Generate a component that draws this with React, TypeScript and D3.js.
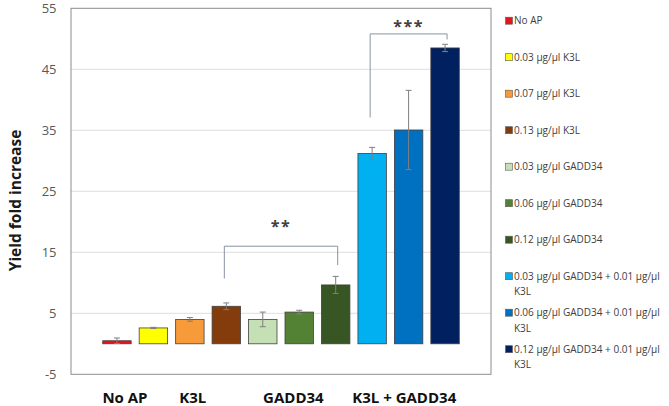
import React, { useEffect, useRef } from "react";
import * as d3 from "d3";

// bar data, left to right
const categories = [
  "No AP",
  "0.03 µg/µl K3L",
  "0.07 µg/µl K3L",
  "0.13 µg/µl K3L",
  "0.03 µg/µl GADD34",
  "0.06 µg/µl GADD34",
  "0.12 µg/µl GADD34",
  "0.03 µg/µl GADD34 + 0.01 µg/µl K3L",
  "0.06 µg/µl GADD34 + 0.01 µg/µl K3L",
  "0.12 µg/µl GADD34 + 0.01 µg/µl K3L",
];
const values = [0.5, 2.6, 4.0, 6.15, 4.0, 5.2, 9.65, 31.2, 35.05, 48.5];
const errors = [0.45, 0.1, 0.3, 0.55, 1.2, 0.3, 1.4, 1.0, 6.5, 0.6];
const colors = [
  "#E8141B",
  "#FFFF00",
  "#F79A3A",
  "#843C0C",
  "#C5E0B4",
  "#548235",
  "#375623",
  "#00B0F0",
  "#0070C0",
  "#002060",
];

// group labels under the axis, at a (fractional) bar index
const groupLabels = ["No AP", "K3L", "GADD34", "K3L + GADD34"];
const groupLabelIndex = [0.22, 2.08, 4.84, 7.88];

const yTicks = [-5, 5, 15, 25, 35, 45, 55];

// significance brackets: bar indices + heights in data units
const sigFrom = [3, 7];
const sigTo = [6, 9];
const sigTop = [16.0, 50.8];
const sigLeftEnd = [10.7, 37.1];
const sigRightEnd = [12.9, 49.9];
const sigLabelAt = [19.85, 52.7];
const sigLabels = ["**", "***"];

const W = 669;
const H = 406;
const FONT = "'Open Sans', sans-serif";

const App: React.FC = () => {
  const svgRef = useRef<SVGSVGElement | null>(null);

  useEffect(() => {
    const svg = d3.select(svgRef.current);
    svg.selectAll("*").remove();

    const plot = { left: 71, right: 491, top: 8.3, bottom: 374.3 };

    const x = d3
      .scaleBand<number>()
      .domain(d3.range(values.length))
      .range([plot.left, plot.right])
      .paddingInner(0.22)
      .paddingOuter(0.87);

    const y = d3.scaleLinear().domain([-5, 55]).range([plot.bottom, plot.top]);

    const cx = (i: number) => x(i)! + x.bandwidth() / 2;

    // gridlines
    svg
      .append("g")
      .selectAll("line")
      .data(yTicks.filter((t) => t > -5 && t < 55))
      .enter()
      .append("line")
      .attr("x1", plot.left)
      .attr("x2", plot.right)
      .attr("y1", (d) => y(d))
      .attr("y2", (d) => y(d))
      .attr("stroke", "#dedede")
      .attr("stroke-width", 1);

    // plot border
    svg
      .append("rect")
      .attr("x", plot.left)
      .attr("y", plot.top)
      .attr("width", plot.right - plot.left)
      .attr("height", plot.bottom - plot.top)
      .attr("fill", "none")
      .attr("stroke", "#8c8c8c")
      .attr("stroke-width", 1);

    // y tick labels
    svg
      .append("g")
      .selectAll("text")
      .data(yTicks)
      .enter()
      .append("text")
      .attr("x", 56.5)
      .attr("y", (d) => y(d))
      .attr("dy", "0.36em")
      .attr("text-anchor", "end")
      .style("font-family", FONT)
      .style("font-size", "13px")
      .style("fill", "#595959")
      .text((d) => d);

    // y title
    svg
      .append("text")
      .attr("transform", `translate(20.5, 200.5) rotate(-90)`)
      .attr("text-anchor", "middle")
      .style("font-family", FONT)
      .style("font-size", "15.5px")
      .style("font-weight", "bold")
      .style("fill", "#1a1a1a")
      .text("Yield fold increase");

    // bars
    svg
      .append("g")
      .selectAll("rect")
      .data(values)
      .enter()
      .append("rect")
      .attr("x", (_, i) => x(i)!)
      .attr("y", (d) => y(Math.max(d, 0)))
      .attr("width", x.bandwidth())
      .attr("height", (d) => Math.abs(y(d) - y(0)))
      .attr("fill", (_, i) => colors[i])
      .attr("stroke", "#404040")
      .attr("stroke-width", 0.8);

    // error bars
    const eb = svg.append("g").attr("stroke", "#7f7f7f").attr("stroke-width", 1);
    values.forEach((v, i) => {
      const e = errors[i];
      const c = cx(i);
      eb.append("line")
        .attr("x1", c)
        .attr("x2", c)
        .attr("y1", y(v - e))
        .attr("y2", y(v + e));
      [v - e, v + e].forEach((yy) => {
        eb.append("line")
          .attr("x1", c - 3)
          .attr("x2", c + 3)
          .attr("y1", y(yy))
          .attr("y2", y(yy));
      });
    });

    // significance brackets
    const sig = svg.append("g");
    sigLabels.forEach((label, k) => {
      const x1 = cx(sigFrom[k]) - 2;
      const x2 = cx(sigTo[k]) + 2;
      sig
        .append("path")
        .attr(
          "d",
          `M${x1},${y(sigLeftEnd[k])}V${y(sigTop[k])}H${x2}V${y(sigRightEnd[k])}`
        )
        .attr("fill", "none")
        .attr("stroke", "#8794a3")
        .attr("stroke-width", 1);
      sig
        .append("text")
        .attr("x", (x1 + x2) / 2)
        .attr("y", y(sigLabelAt[k]) + 9.5)
        .attr("text-anchor", "middle")
        .style("font-family", FONT)
        .style("font-size", "16px")
        .style("font-weight", "bold")
        .style("letter-spacing", "1.5px")
        .style("fill", "#404040")
        .text(label);
    });

    // group labels
    svg
      .append("g")
      .selectAll("text")
      .data(groupLabels)
      .enter()
      .append("text")
      .attr("x", (_, i) => cx(0) + groupLabelIndex[i] * x.step())
      .attr("y", 402.7)
      .attr("text-anchor", "middle")
      .style("font-family", FONT)
      .style("font-size", "15px")
      .style("font-weight", "bold")
      .style("fill", "#111")
      .text((d) => d);

    // legend
    const legend = svg.append("g");
    const rowGap = 36.5;
    const maxW = 156;
    categories.forEach((cat, i) => {
      const ry = 20.7 + i * rowGap;
      legend
        .append("rect")
        .attr("x", 505.5)
        .attr("y", ry - 3.5)
        .attr("width", 7)
        .attr("height", 7)
        .attr("fill", colors[i])
        .attr("stroke", "#595959")
        .attr("stroke-width", 0.6);
      const t = legend
        .append("text")
        .attr("x", 514)
        .attr("y", ry)
        .style("font-family", FONT)
        .style("font-size", "10px")
        .style("fill", "#404040");
      const words = cat.split(" ");
      let line: string[] = [];
      let tspan = t.append("tspan").attr("x", 514).attr("dy", "0.35em");
      words.forEach((w) => {
        line.push(w);
        tspan.text(line.join(" "));
        if ((tspan.node() as SVGTSpanElement).getComputedTextLength() > maxW && line.length > 1) {
          line.pop();
          tspan.text(line.join(" "));
          line = [w];
          tspan = t.append("tspan").attr("x", 514).attr("dy", "15.7px").text(w);
        }
      });
    });
  }, []);

  return (
    <div style={{ position: "absolute", left: 0, top: 0, width: W, height: H, background: "#fff" }}>
      <svg ref={svgRef} width={W} height={H}></svg>
    </div>
  );
};

export default App;
